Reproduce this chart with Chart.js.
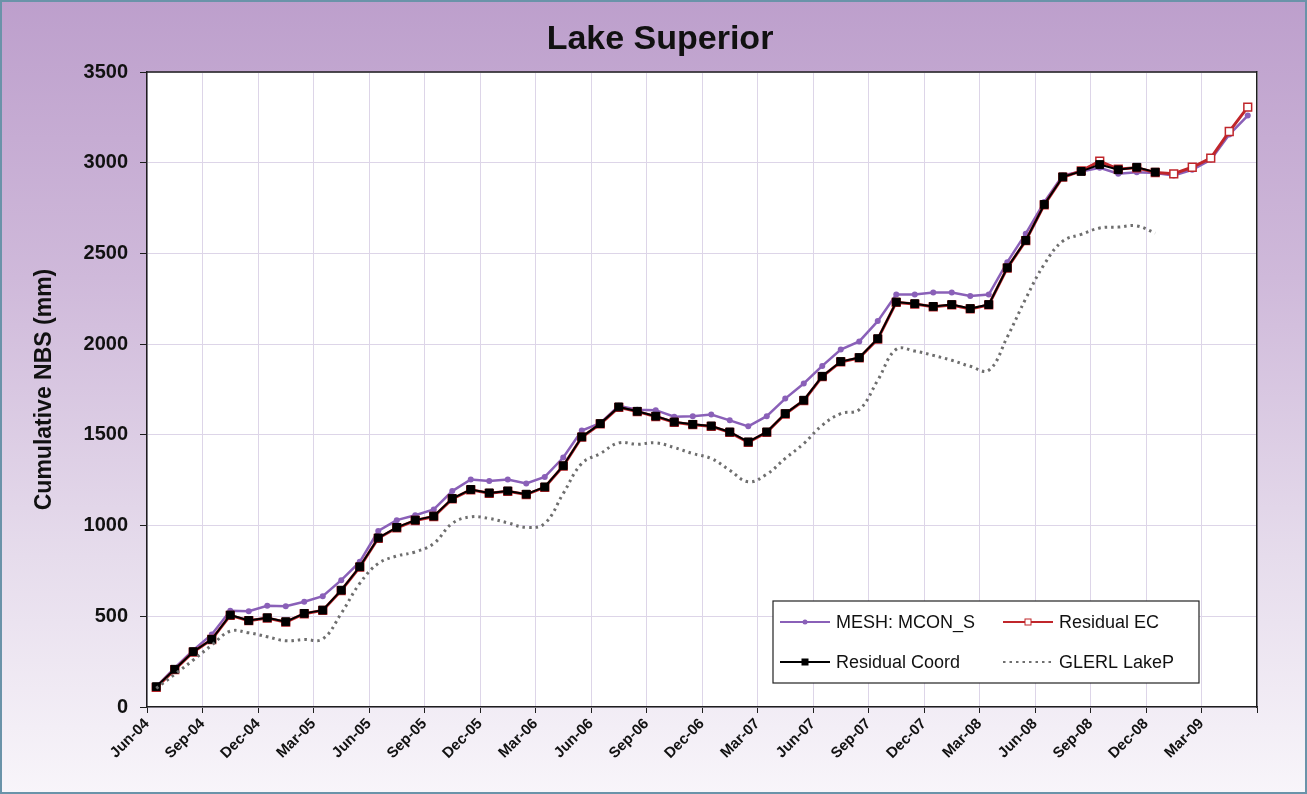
<!DOCTYPE html>
<html>
<head>
<meta charset="utf-8">
<title>Lake Superior</title>
<script src="https://cdn.jsdelivr.net/npm/chart.js@4.4.0/dist/chart.umd.min.js"></script>
<style>
  html, body { margin: 0; padding: 0; }
  #wrap {
    position: relative;
    width: 1307px;
    height: 794px;
    background: linear-gradient(to bottom, #bd9fcc 0%, #cfb9da 35%, #e6dcec 70%, #f8f5fa 100%);
  }
  #wrap canvas { position: absolute; left: 0; top: 0; }
  #edge {
    position: absolute; left: 0; top: 0; right: 0; bottom: 0;
    border: 2px solid #6a93a9;
    pointer-events: none;
  }
</style>
</head>
<body>
<div id="wrap">
  <canvas id="nbs-chart" width="1307" height="794"></canvas>
  <div id="edge"></div>
</div>
<script>
// Lake Superior - cumulative net basin supply, monthly Jun-04 .. May-09
const months = [
  'Jun-04', 'Jul-04', 'Aug-04', 'Sep-04', 'Oct-04', 'Nov-04', 'Dec-04', 'Jan-05', 'Feb-05', 'Mar-05', 'Apr-05', 'May-05',
  'Jun-05', 'Jul-05', 'Aug-05', 'Sep-05', 'Oct-05', 'Nov-05', 'Dec-05', 'Jan-06', 'Feb-06', 'Mar-06', 'Apr-06', 'May-06',
  'Jun-06', 'Jul-06', 'Aug-06', 'Sep-06', 'Oct-06', 'Nov-06', 'Dec-06', 'Jan-07', 'Feb-07', 'Mar-07', 'Apr-07', 'May-07',
  'Jun-07', 'Jul-07', 'Aug-07', 'Sep-07', 'Oct-07', 'Nov-07', 'Dec-07', 'Jan-08', 'Feb-08', 'Mar-08', 'Apr-08', 'May-08',
  'Jun-08', 'Jul-08', 'Aug-08', 'Sep-08', 'Oct-08', 'Nov-08', 'Dec-08', 'Jan-09', 'Feb-09', 'Mar-09', 'Apr-09', 'May-09'
];

const meshMcon = [
  112, 215, 313, 400, 530, 528, 558, 556, 580, 611, 699, 800,
  970, 1030, 1057, 1089, 1190, 1254, 1246, 1254, 1232, 1268, 1375, 1524,
  1564, 1660, 1639, 1636, 1600, 1602, 1612, 1580, 1547, 1603, 1700, 1783,
  1880, 1970, 2015, 2127, 2273, 2273, 2284, 2284, 2265, 2273, 2452, 2609,
  2783, 2930, 2952, 2972, 2939, 2948, 2943, 2930, 2961, 3016, 3155, 3260
];

const residualEC = [
  108, 206, 303, 372, 505, 476, 490, 468, 514, 532, 642, 771,
  930, 988, 1028, 1050, 1147, 1197, 1178, 1189, 1171, 1211, 1328, 1487,
  1560, 1652, 1628, 1601, 1569, 1556, 1547, 1514, 1459, 1514, 1615, 1689,
  1821, 1902, 1924, 2028, 2230, 2221, 2206, 2216, 2194, 2216, 2419, 2570,
  2768, 2920, 2955, 3008, 2965, 2972, 2946, 2939, 2975, 3025, 3172, 3306
];

const residualCoord = [
  112, 208, 305, 373, 507, 477, 492, 470, 516, 534, 644, 773,
  932, 990, 1030, 1052, 1149, 1199, 1180, 1191, 1173, 1213, 1330, 1489,
  1562, 1654, 1630, 1603, 1571, 1558, 1549, 1516, 1461, 1516, 1617, 1691,
  1823, 1904, 1926, 2030, 2232, 2223, 2208, 2218, 2196, 2218, 2421, 2572,
  2770, 2922, 2952, 2990, 2961, 2975, 2948
];

const glerlLakeP = [
  103, 180, 259, 341, 418, 409, 387, 365, 372, 375, 516, 681,
  791, 832, 855, 901, 1012, 1048, 1039, 1015, 990, 1012, 1177, 1342,
  1397, 1456, 1448, 1456, 1430, 1397, 1370, 1305, 1241, 1283, 1370, 1452,
  1553, 1617, 1639, 1801, 1972, 1962, 1938, 1911, 1878, 1856, 2039, 2251,
  2440, 2568, 2605, 2640, 2645, 2652, 2612
];

const yTicks = [0, 500, 1000, 1500, 2000, 2500, 3000, 3500];

const FONT = "'Liberation Sans', Arial, sans-serif";
const gridColor = '#ddd5e8';
const axisColor = '#1e1e1e';

// each month sits in the middle of its slot, ticks fall on the slot edges
const toPoints = (values) => values.map((v, i) => ({ x: i + 0.5, y: v }));

// white plot area plus the top edge of the frame
const plotFrame = {
  id: 'plotFrame',
  beforeDraw(chart) {
    const { ctx, chartArea: a } = chart;
    ctx.save();
    ctx.fillStyle = '#ffffff';
    ctx.fillRect(a.left, a.top, a.right - a.left, a.bottom - a.top);
    ctx.restore();
  },
  afterDraw(chart) {
    const { ctx, chartArea: a } = chart;
    ctx.save();
    ctx.strokeStyle = axisColor;
    ctx.lineWidth = 1.5;
    ctx.beginPath();
    ctx.moveTo(a.left, a.top);
    ctx.lineTo(a.right, a.top);
    ctx.stroke();
    ctx.restore();
  }
};

// boxed two-column legend inside the lower right of the plot
const boxLegend = {
  id: 'boxLegend',
  afterDraw(chart) {
    const { ctx, chartArea: a } = chart;
    const left = a.left + 626, top = a.top + 529;
    const width = 426, height = 82;
    ctx.save();
    ctx.fillStyle = '#ffffff';
    ctx.fillRect(left, top, width, height);
    ctx.strokeStyle = '#222';
    ctx.lineWidth = 1.2;
    ctx.strokeRect(left, top, width, height);

    ctx.font = '18px ' + FONT;
    ctx.textBaseline = 'middle';
    ctx.textAlign = 'left';

    chart.data.datasets.forEach((ds, i) => {
      const col = i % 2, row = Math.floor(i / 2);
      const x = left + 7 + col * 223;
      const y = top + 21 + row * 40;
      ctx.strokeStyle = ds.borderColor;
      ctx.lineWidth = Math.min(ds.borderWidth, 2);
      ctx.setLineDash(ds.borderDash || []);
      ctx.beginPath();
      ctx.moveTo(x, y);
      ctx.lineTo(x + 50, y);
      ctx.stroke();
      ctx.setLineDash([]);
      if (ds.pointRadius > 0) {
        ctx.fillStyle = ds.pointBackgroundColor;
        ctx.strokeStyle = ds.pointBorderColor;
        ctx.lineWidth = 1;
        if (ds.pointStyle === 'rect') {
          ctx.fillRect(x + 22, y - 3, 6, 6);
          ctx.strokeRect(x + 22, y - 3, 6, 6);
        } else {
          ctx.beginPath();
          ctx.arc(x + 25, y, 2.5, 0, Math.PI * 2);
          ctx.fill();
        }
      }
      ctx.fillStyle = '#111';
      ctx.fillText(ds.label, x + 56, y + 1);
    });
    ctx.restore();
  }
};

const ctx = document.getElementById('nbs-chart').getContext('2d');
new Chart(ctx, {
  type: 'line',
  data: {
    datasets: [
      {
        label: 'MESH: MCON_S',
        data: toPoints(meshMcon),
        borderColor: '#8a60b8',
        borderWidth: 2.5,
        pointStyle: 'circle',
        pointRadius: 3,
        pointBackgroundColor: '#8a60b8',
        pointBorderColor: '#8a60b8',
        pointBorderWidth: 0,
        tension: 0,
        order: 3
      },
      {
        label: 'Residual EC',
        data: toPoints(residualEC),
        borderColor: '#c0262b',
        borderWidth: 3,
        pointStyle: 'rect',
        pointRadius: 5.5,
        pointBackgroundColor: '#ffffff',
        pointBorderColor: '#c0262b',
        pointBorderWidth: 1.5,
        tension: 0,
        order: 2
      },
      {
        label: 'Residual Coord',
        data: toPoints(residualCoord),
        borderColor: '#000000',
        borderWidth: 2,
        pointStyle: 'rect',
        pointRadius: 5.5,
        pointBackgroundColor: '#000000',
        pointBorderColor: '#000000',
        pointBorderWidth: 1,
        tension: 0,
        order: 1
      },
      {
        label: 'GLERL LakeP',
        data: toPoints(glerlLakeP),
        borderColor: '#6e6e6e',
        borderWidth: 3,
        borderDash: [2.5, 4],
        pointRadius: 0,
        tension: 0.4,
        order: 0
      }
    ]
  },
  options: {
    responsive: false,
    animation: false,
    layout: { padding: { top: 15, right: 0, bottom: 0, left: 13 } },
    scales: {
      x: {
        type: 'linear',
        min: 0,
        max: months.length,
        grid: { color: gridColor, lineWidth: 1, tickColor: axisColor, tickLength: 6 },
        border: { color: axisColor, width: 1.5 },
        ticks: {
          stepSize: 3,
          autoSkip: false,
          maxRotation: 45,
          minRotation: 45,
          padding: 2,
          color: '#111',
          font: { family: FONT, size: 15, weight: 'bold' },
          callback: (v) => (v % 3 === 0 && months[v]) ? months[v] : ''
        },
        afterFit: (scale) => { scale.height = 87; }
      },
      y: {
        min: 0,
        max: 3500,
        grid: { color: gridColor, lineWidth: 1, tickColor: axisColor, tickLength: 7 },
        border: { color: axisColor, width: 1.5 },
        afterBuildTicks: (scale) => { scale.ticks = yTicks.map(v => ({ value: v })); },
        ticks: {
          padding: 12,
          color: '#111',
          font: { family: FONT, size: 20, weight: 'bold' },
          callback: (v) => String(v)
        },
        title: {
          display: true,
          text: 'Cumulative NBS (mm)',
          color: '#111',
          font: { family: FONT, size: 23, weight: 'bold' },
          padding: { top: 18, bottom: 0 }
        },
        afterFit: (scale) => { scale.width = 134; }
      },
      yRight: {
        position: 'right',
        min: 0,
        max: 3500,
        grid: { display: false, drawTicks: false },
        border: { color: axisColor, width: 1.5 },
        ticks: { display: false },
        afterFit: (scale) => { scale.width = 50; }
      }
    },
    plugins: {
      legend: { display: false },
      tooltip: { enabled: false },
      title: {
        display: true,
        text: 'Lake Superior',
        color: '#111',
        font: { family: FONT, size: 34, weight: 'bold' },
        padding: { top: 4, bottom: 12.2 }
      }
    }
  },
  plugins: [plotFrame, boxLegend]
});
</script>
</body>
</html>
